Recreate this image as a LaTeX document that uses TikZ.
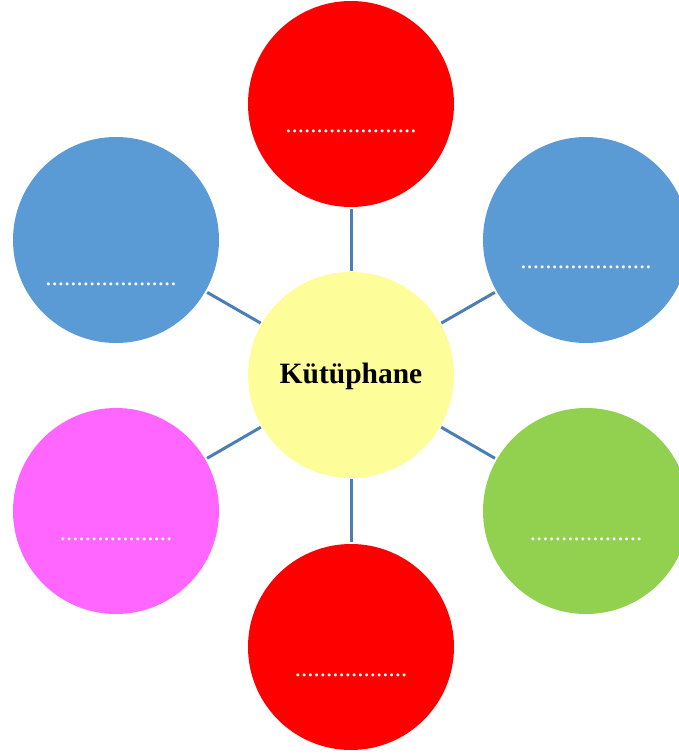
\documentclass[tikz,border=0pt]{standalone}
\usepackage{fontspec}
\setmainfont{Liberation Serif}
\definecolor{cred}{HTML}{FF0000}
\definecolor{cblue}{HTML}{5B9BD5}
\definecolor{cyellow}{HTML}{FDFD99}
\definecolor{cpink}{HTML}{FF66FF}
\definecolor{cgreen}{HTML}{92D050}
\definecolor{cline}{HTML}{4A7EB4}
\begin{document}
\begin{tikzpicture}[x=1pt,y=-1pt,
  bub/.style={circle,minimum size=206pt,inner sep=0pt,draw=none},
  link/.style={draw=cline,line width=3pt,shorten <=1pt,shorten >=2pt},
  dots/.style={text=white,font=\fontsize{25}{28}\selectfont,anchor=base,inner sep=0pt}]
\useasboundingbox (0,0) rectangle (679,756);
\node[bub,fill=cyellow] (c) at (351,375) {};
\node[bub,fill=cred] (t) at (351,104) {};
\node[bub,fill=cblue] (tl) at (116,240) {};
\node[bub,fill=cblue] (tr) at (586,240) {};
\node[bub,fill=cpink] (bl) at (116,511) {};
\node[bub,fill=cgreen] (br) at (586,511) {};
\node[bub,fill=cred] (b) at (351,647) {};
\node[anchor=base,inner sep=0pt,font=\fontsize{29.5}{32}\selectfont\bfseries] (lbl) at (351,383) {Kütüphane};
\foreach \n in {t,tl,tr,bl,br,b} {\path[link] (c) -- (\n);}
\node[dots] (dt) at (351,132) {.....................};
\node[dots] (dtl) at (111,285) {.....................};
\node[dots] (dtr) at (586,268) {.....................};
\node[dots] (dbl) at (116,540) {..................};
\node[dots] (dbr) at (586,540) {..................};
\node[dots] (db) at (351,676) {..................};
\end{tikzpicture}
\end{document}
